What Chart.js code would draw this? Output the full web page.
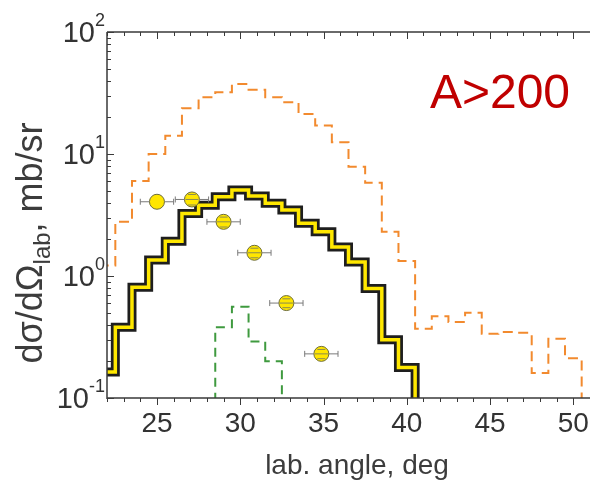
<!DOCTYPE html>
<html><head><meta charset="utf-8">
<script src="https://cdn.jsdelivr.net/npm/chart.js@4/dist/chart.umd.min.js"></script>
<style>html,body{margin:0;padding:0;background:#fff}#wrap{width:590px;height:486px;position:relative}canvas{display:block}</style>
</head><body><div id="wrap"><canvas id="c" width="590" height="486" style="width:590px;height:486px"></canvas></div>
<script>
// ---- data ----
const binCenters   = [22,23,24,25,26,27,28,29,30,31,32,33,34,35,36,37,38,39,40,41,42,43,44,45,46,47,48,49,50,51];
const orangeValues = [1.22,2.78,6.0,10.0,14.1,23.7,29.2,32.1,37.4,33.6,29.2,26.6,21.3,17.1,12.5,7.87,5.81,2.30,1.33,0.37,0.467,0.42,0.50,0.336,0.347,0.343,0.16,0.306,0.212,0.01];
const blackCenters = [22,23,24,25,26,27,28,29,30,31,32,33,34,35,36,37,38,39,40,41];
const blackValues  = [0.163,0.38,0.81,1.35,1.93,3.26,3.81,4.46,5.06,4.52,3.94,3.47,2.70,2.30,1.73,1.30,0.79,0.30,0.178,0.01];
const greenCenters = [28,29,30,31,32,33];
const greenValues  = [0.01,0.38,0.56,0.29,0.20,0.01];
const pointAngles    = [25.0,27.1,29.0,30.85,32.77,34.87];
const pointValues    = [4.06,4.24,2.78,1.55,0.60,0.23];
const pointAngleErr  = [1,1,1,1,1,1];
const pointValueErr  = [0,0.42,0.26,0.14,0.05,0.02];
const xMajorTicks = [25,30,35,40,45,50];
const yMajorTicks = [0.1,1,10,100];
const yTickExponents = ['-1','0','1','2'];
const xAxisTitle = 'lab. angle, deg';
const yTitleParts = ['dσ/dΩ','lab',', mb/sr'];
const panelLabel = 'A>200';

function stepData(centers, values){
  const d = centers.map((c,i)=>({x:c-0.5, y:values[i]}));
  d.push({x:centers[centers.length-1]+0.5, y:values[values.length-1]});
  return d;
}

const FONT = '"Liberation Sans", Arial, sans-serif';
const AXIS = '#3a3a3a';
const TXT = '#333333';

const decor = {
  id:'decor',
  afterDatasetsDraw(chart){
    const ctx = chart.ctx, xs = chart.scales.x, ys = chart.scales.y;
    ctx.save();
    ctx.strokeStyle = '#7a7a7a'; ctx.lineWidth = 1;
    pointAngles.forEach((ang,i)=>{
      const v = pointValues[i];
      const y = ys.getPixelForValue(v);
      const x1 = xs.getPixelForValue(ang-pointAngleErr[i]), x2 = xs.getPixelForValue(ang+pointAngleErr[i]);
      const xc = xs.getPixelForValue(ang);
      const r = 7.5;
      ctx.beginPath();
      ctx.moveTo(x1,y); ctx.lineTo(xc-r,y);
      ctx.moveTo(xc+r,y); ctx.lineTo(x2,y);
      ctx.moveTo(x1,y-3); ctx.lineTo(x1,y+3);
      ctx.moveTo(x2,y-3); ctx.lineTo(x2,y+3);
      ctx.stroke();
      if(pointValueErr[i]>0){
        const yt = ys.getPixelForValue(v+pointValueErr[i]), yb = ys.getPixelForValue(v-pointValueErr[i]);
        ctx.strokeStyle = '#8a8a50';
        ctx.beginPath();
        ctx.moveTo(xc-4,yt); ctx.lineTo(xc+4,yt);
        ctx.moveTo(xc-4,yb); ctx.lineTo(xc+4,yb);
        ctx.moveTo(xc-r+1,y); ctx.lineTo(xc+r-1,y);
        ctx.stroke();
        ctx.strokeStyle = '#7a7a7a';
      }
    });
    ctx.restore();
  },
  afterDraw(chart){
    const ctx = chart.ctx, xs = chart.scales.x, ys = chart.scales.y, a = chart.chartArea;
    ctx.save();
    ctx.strokeStyle = AXIS; ctx.lineWidth = 1.5;
    ctx.beginPath();
    ctx.moveTo(a.left, a.top); ctx.lineTo(a.right, a.top);
    ctx.moveTo(a.left, a.bottom); ctx.lineTo(a.right, a.bottom);
    ctx.moveTo(a.left, a.top); ctx.lineTo(a.left, a.bottom+1);
    ctx.stroke();
    ctx.lineWidth = 1;
    ctx.beginPath();
    for(let t=Math.ceil(xs.min); t<=xs.max; t++){
      const x = Math.round(xs.getPixelForValue(t))+0.5;
      const major = xMajorTicks.includes(t);
      const L = major?7:4;
      ctx.moveTo(x,a.top); ctx.lineTo(x,a.top+L);
      ctx.moveTo(x,a.bottom); ctx.lineTo(x,a.bottom+L);
    }
    for(let e=-1;e<2;e++){
      for(let m=1;m<=10;m++){
        const v = m*Math.pow(10,e);
        if(v<ys.min||v>ys.max) continue;
        const y = Math.round(ys.getPixelForValue(v))+0.5;
        const L = (m===1||m===10)?7:4;
        ctx.moveTo(a.left,y); ctx.lineTo(a.left+L,y);
      }
    }
    ctx.stroke();
    ctx.fillStyle = TXT;
    ctx.font = '28px '+FONT;
    ctx.textAlign = 'center'; ctx.textBaseline = 'middle';
    xMajorTicks.forEach(t=>{
      ctx.fillText(String(t), xs.getPixelForValue(t), a.bottom+26);
    });
    yMajorTicks.forEach((v,i)=>{
      const y = ys.getPixelForValue(v);
      ctx.font = '18px '+FONT;
      const ew = ctx.measureText(yTickExponents[i]).width;
      const right = a.left-2;
      ctx.textAlign = 'left'; ctx.textBaseline = 'alphabetic';
      ctx.fillText(yTickExponents[i], right-ew, y-6);
      ctx.font = '29px '+FONT;
      ctx.textAlign = 'right'; ctx.textBaseline = 'middle';
      ctx.fillText('10', right-ew, y+2);
    });
    ctx.font = '28px '+FONT; ctx.textAlign = 'center'; ctx.textBaseline = 'middle';
    ctx.fillStyle = '#3c3c3c';
    ctx.fillText(xAxisTitle, 357, 466);
    ctx.save();
    ctx.translate(32, 243);
    ctx.rotate(-Math.PI/2);
    ctx.textAlign = 'left'; ctx.textBaseline = 'middle';
    ctx.font = '36px '+FONT; const w0 = ctx.measureText(yTitleParts[0]).width, w2 = ctx.measureText(yTitleParts[2]).width;
    ctx.font = '24px '+FONT; const w1 = ctx.measureText(yTitleParts[1]).width;
    let x0 = -(w0+w1+w2)/2;
    ctx.font = '36px '+FONT; ctx.fillText(yTitleParts[0], x0, 0);
    ctx.font = '24px '+FONT; ctx.fillText(yTitleParts[1], x0+w0, 11);
    ctx.font = '36px '+FONT; ctx.fillText(yTitleParts[2], x0+w0+w1, 0);
    ctx.restore();
    ctx.font = '48px '+FONT; ctx.fillStyle = '#C00000';
    ctx.textAlign = 'center'; ctx.textBaseline = 'alphabetic';
    ctx.fillText(panelLabel, 500, 108);
    ctx.restore();
  }
};

new Chart(document.getElementById('c'), {
  type: 'line',
  data: {
    datasets: [
      { label:'data', type:'scatter', data: pointAngles.map((x,i)=>({x, y:pointValues[i]})),
        pointRadius:7.5, pointHoverRadius:7.5, backgroundColor:'#FFE600', borderColor:'#6b6b3a', borderWidth:1, showLine:false, order:0 },
      { label:'yellow', data: stepData(blackCenters, blackValues), stepped:true, borderColor:'#FFE800', borderWidth:3.5, pointRadius:0, fill:false, clip:0, order:1 },
      { label:'black', data: stepData(blackCenters, blackValues), stepped:true, borderColor:'#1e1e1e', borderWidth:9, pointRadius:0, fill:false, clip:0, borderJoinStyle:'miter', order:2 },
      { label:'green', data: stepData(greenCenters, greenValues), stepped:true, borderColor:'#3f9a3f', borderWidth:2, borderDash:[9,6], pointRadius:0, fill:false, clip:0, order:3 },
      { label:'orange', data: stepData(binCenters, orangeValues), stepped:true, borderColor:'#F28A2E', borderWidth:2, borderDash:[10,6], pointRadius:0, fill:false, clip:0, order:4 }
    ]
  },
  options: {
    responsive:false, animation:false, devicePixelRatio:1,
    layout:{ autoPadding:false, padding:{ left:107, top:32, right:0, bottom:88 } },
    plugins:{ legend:{display:false}, tooltip:{enabled:false} },
    scales:{
      x:{ type:'linear', min:22, max:51, display:false },
      y:{ type:'logarithmic', min:0.1, max:100, display:false }
    }
  },
  plugins:[decor]
});
</script>
</body></html>
